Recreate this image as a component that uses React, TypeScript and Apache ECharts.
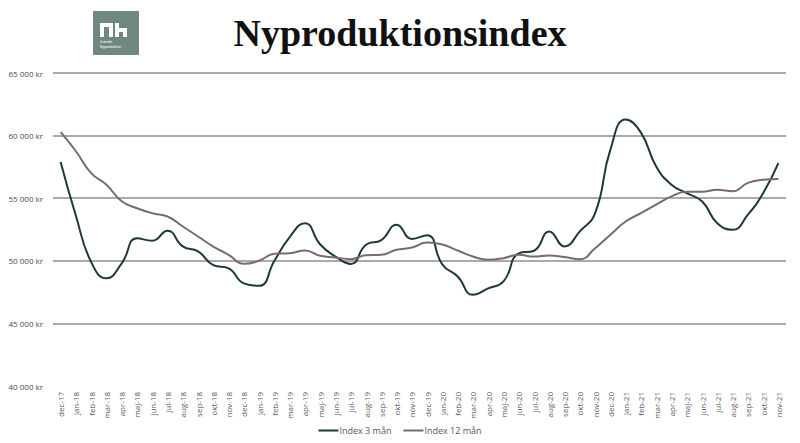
import React, { useEffect, useRef } from "react";
import * as echarts from "echarts";

const months = [
  "dec-17",
  "jan-18", "feb-18", "mar-18", "apr-18", "maj-18", "jun-18", "jul-18", "aug-18", "sep-18", "okt-18", "nov-18", "dec-18",
  "jan-19", "feb-19", "mar-19", "apr-19", "maj-19", "jun-19", "jul-19", "aug-19", "sep-19", "okt-19", "nov-19", "dec-19",
  "jan-20", "feb-20", "mar-20", "apr-20", "maj-20", "jun-20", "jul-20", "aug-20", "sep-20", "okt-20", "nov-20", "dec-20",
  "jan-21", "feb-21", "mar-21", "apr-21", "maj-21", "jun-21", "jul-21", "aug-21", "sep-21", "okt-21", "nov-21",
];

const index3 = [
  57900, 53600, 49900, 48600, 49800, 51800, 51600, 52400, 51150, 50750, 49650, 49400, 48200,
  48000, 50000, 51900, 53000, 51300, 50340, 49750, 51280, 51650, 52880, 51750, 52050,
  49700, 48750, 47280, 47800, 48350, 50600, 50800, 52350, 51150, 52350, 53800, 58880,
  61280, 60240, 57540, 56080, 55400, 54750, 53000, 52480, 53680, 55400, 57800,
];

const index12 = [
  60270, 58750, 57000, 56080, 54750, 54200, 53800, 53540, 52740, 51940, 51140, 50480, 49760,
  50000, 50560, 50600, 50820, 50400, 50270, 50130, 50450, 50480, 50880, 51060, 51460,
  51300, 50820, 50340, 50080, 50210, 50480, 50340, 50430, 50300, 50130, 51000, 52080,
  53140, 53800, 54480, 55140, 55520, 55520, 55680, 55550, 56220, 56480, 56540,
];

const yTicks = [40000, 45000, 50000, 55000, 60000, 65000];
const seriesNames = ["Index 3 mån", "Index 12 mån"];

const fmt = (v: number) => {
  const s = String(Math.round(v));
  return s.replace(/\B(?=(\d{3})+(?!\d))/g, " ") + " kr";
};

export default function App() {
  const ref = useRef<HTMLDivElement>(null);
  useEffect(() => {
    if (!ref.current) return;
    const chart = echarts.init(ref.current, undefined, { renderer: "svg" });
    const gridColor = "#8e8e8e";
    chart.setOption({
      animation: false,
      backgroundColor: "#ffffff",
      textStyle: { fontFamily: "'Open Sans', 'Noto Sans', sans-serif" },
      title: {
        text: "Nyproduktionsindex",
        left: "center",
        top: 9,
        textStyle: {
          fontFamily: "'Liberation Serif', serif",
          fontWeight: "bold",
          fontSize: 38,
          color: "#111111",
        },
      },
      graphic: [
        {
          type: "group",
          left: 93,
          top: 11,
          children: [
            { type: "rect", shape: { x: 0, y: 0, width: 46, height: 44 }, style: { fill: "#6f8880" } },
            { type: "rect", shape: { x: 7, y: 12, width: 4, height: 14 }, style: { fill: "#ffffff" } },
            { type: "rect", shape: { x: 7, y: 12, width: 13, height: 4 }, style: { fill: "#ffffff" } },
            { type: "rect", shape: { x: 16, y: 12, width: 4, height: 14 }, style: { fill: "#ffffff" } },
            { type: "rect", shape: { x: 22, y: 12, width: 4, height: 14 }, style: { fill: "#ffffff" } },
            { type: "rect", shape: { x: 22, y: 17, width: 11, height: 4 }, style: { fill: "#ffffff" } },
            { type: "rect", shape: { x: 30, y: 17, width: 4, height: 9 }, style: { fill: "#ffffff" } },
            {
              type: "text",
              x: 7,
              y: 29,
              style: { text: "Svenskt", fontSize: 3.5, fill: "#ffffff", fontFamily: "Roboto" },
            },
            {
              type: "text",
              x: 7,
              y: 33.5,
              style: { text: "Nyproduktion", fontSize: 3.5, fill: "#ffffff", fontFamily: "Roboto" },
            },
          ],
        },
      ],
      legend: {
        data: seriesNames,
        bottom: 3,
        left: "center",
        icon: "rect",
        itemWidth: 20,
        itemHeight: 2,
        itemGap: 12,
        textStyle: { fontSize: 9, color: "#595959", padding: [0, 0, 0, -4] },
      },
      grid: { left: 53, right: 14, top: 73, bottom: 57 },
      xAxis: {
        type: "category",
        data: months,
        boundaryGap: true,
        axisLine: { show: false },
        axisTick: { show: false },
        axisLabel: {
          rotate: 90,
          interval: 0,
          fontSize: 8,
          color: "#595959",
          margin: 6,
        },
      },
      yAxis: {
        type: "value",
        min: yTicks[0],
        max: yTicks[yTicks.length - 1],
        interval: 5000,
        axisLine: { show: false },
        axisTick: { show: false },
        axisLabel: {
          fontSize: 8,
          color: "#4a4a4a",
          margin: 10,
          formatter: (v: number) => fmt(v),
        },
        splitLine: {
          show: true,
          lineStyle: {
            color: ["#ffffff", gridColor, gridColor, gridColor, gridColor, gridColor],
            width: 1.5,
          },
        },
      },
      series: [
        {
          name: seriesNames[0],
          type: "line",
          data: index3,
          smooth: 0.5,
          symbol: "none",
          lineStyle: { color: "#1d3a34", width: 2 },
          itemStyle: { color: "#1d3a34" },
        },
        {
          name: seriesNames[1],
          type: "line",
          data: index12,
          smooth: 0.5,
          symbol: "none",
          lineStyle: { color: "#7a6c64", width: 2 },
          itemStyle: { color: "#7a6c64" },
        },
      ],
    });
    return () => chart.dispose();
  }, []);
  return <div ref={ref} style={{ width: 800, height: 443, position: "absolute", left: 0, top: 0 }} />;
}
